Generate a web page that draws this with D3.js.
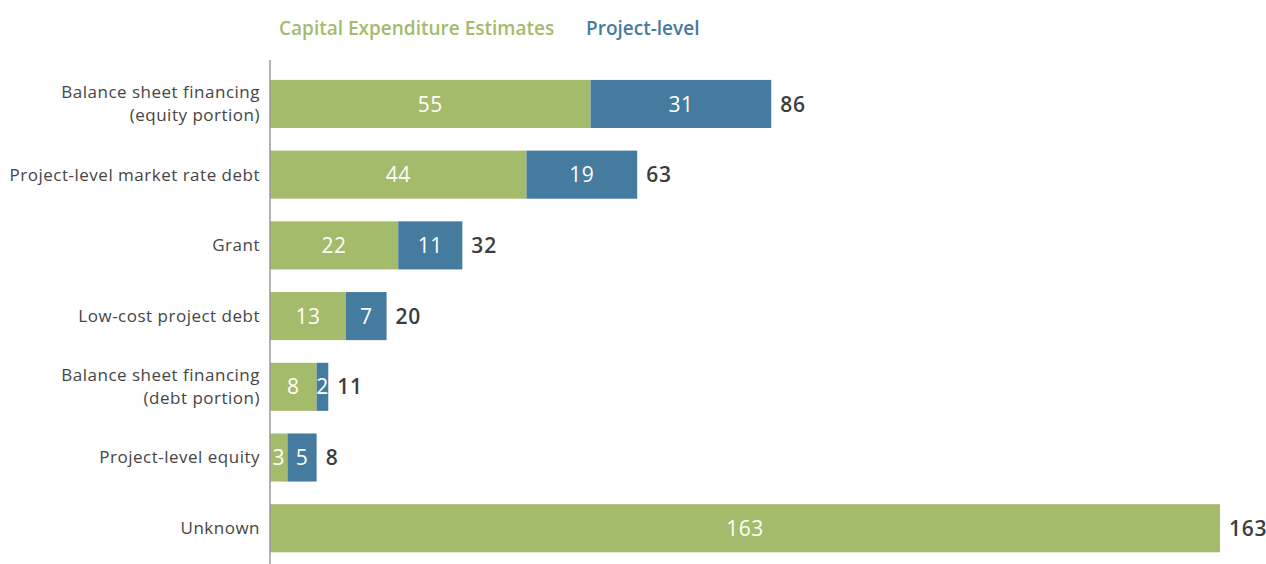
<!DOCTYPE html>
<html><head><meta charset="utf-8">
<script src="https://cdn.jsdelivr.net/npm/d3@7"></script>
<style>body{margin:0;background:#fff;font-family:"Open Sans",sans-serif;}</style>
</head><body><svg id="c" width="1266" height="564"></svg>
<script>
const categories = ["Balance sheet financing\n(equity portion)","Project-level market rate debt","Grant","Low-cost project debt","Balance sheet financing\n(debt portion)","Project-level equity","Unknown"];
const capexValues = [55,44,22,13,8,3,163];
const projectValues = [31,19,11,7,2,5,0];
const totalLabels = ["86","63","32","20","11","8","163"];
const seriesNames = ["Capital Expenditure Estimates","Project-level"];
const colors = ["#a4bb6b","#457b9e"];
const FONT = "'Open Sans',sans-serif";

const svg = d3.select("#c").attr("font-family",FONT);
const x = d3.scaleLinear().domain([0,163]).range([270,1220]);
const y = d3.scaleBand().domain(categories).range([68.6,563.6]).paddingInner(0.32).paddingOuter(0.16);

// legend
const leg = [{t:seriesNames[0],x:279,c:colors[0]},{t:seriesNames[1],x:586,c:colors[1]}];
svg.selectAll(".leg").data(leg).join("text").attr("x",d=>d.x).attr("y",35)
  .attr("fill",d=>d.c).attr("font-size",19).attr("font-weight",600).text(d=>d.t);

const rows = categories.map((c,i)=>({c,a:capexValues[i],b:projectValues[i],t:totalLabels[i]}));
const g = svg.append("g");
const bh = y.bandwidth();
g.selectAll(".a").data(rows).join("rect").attr("x",x(0)).attr("y",d=>y(d.c))
  .attr("width",d=>x(d.a)-x(0)).attr("height",bh).attr("fill",colors[0]);
g.selectAll(".b").data(rows.filter(d=>d.b>0)).join("rect").attr("x",d=>x(d.a)).attr("y",d=>y(d.c))
  .attr("width",d=>x(d.a+d.b)-x(d.a)).attr("height",bh).attr("fill",colors[1]);

// inside labels
g.selectAll(".la").data(rows).join("text").attr("x",d=>(x(0)+x(d.a))/2).attr("y",d=>y(d.c)+bh/2)
  .attr("dy","0.36em").attr("text-anchor","middle").attr("fill","#fff").attr("font-size",21).attr("font-weight",500).attr("letter-spacing",0.5).text(d=>d.a);
g.selectAll(".lb").data(rows.filter(d=>d.b>0)).join("text").attr("x",d=>(x(d.a)+x(d.a+d.b))/2).attr("y",d=>y(d.c)+bh/2)
  .attr("dy","0.36em").attr("text-anchor","middle").attr("fill","#fff").attr("font-size",21).attr("font-weight",500).attr("letter-spacing",0.5).text(d=>d.b);
g.selectAll(".lt").data(rows).join("text").attr("x",d=>x(d.a+d.b)+9).attr("y",d=>y(d.c)+bh/2)
  .attr("dy","0.36em").attr("fill","#3d3d3d").attr("font-size",21).attr("font-weight",600).attr("letter-spacing",0.8).text(d=>d.t);

// axis
const ax = svg.append("g").attr("transform",`translate(${x(0)},0)`)
  .call(d3.axisLeft(y).tickSize(0).tickPadding(10).tickFormat(()=>""));
ax.select(".domain").attr("stroke","#9a9a9a").attr("stroke-width",1.5).attr("d","M0,60V564");
ax.selectAll(".tick").each(function(d){
  const lines = d.split("\n");
  const t = d3.select(this).append("text").attr("x",-10).attr("text-anchor","end")
    .attr("fill","#454545").attr("font-size",17).attr("letter-spacing",0.5).attr("font-family",FONT);
  const off = -(lines.length-1)*11.5;
  lines.forEach((l,i)=>t.append("tspan").attr("x",-10).attr("y",off+i*23).attr("dy","0.35em").text(l));
});
</script></body></html>
